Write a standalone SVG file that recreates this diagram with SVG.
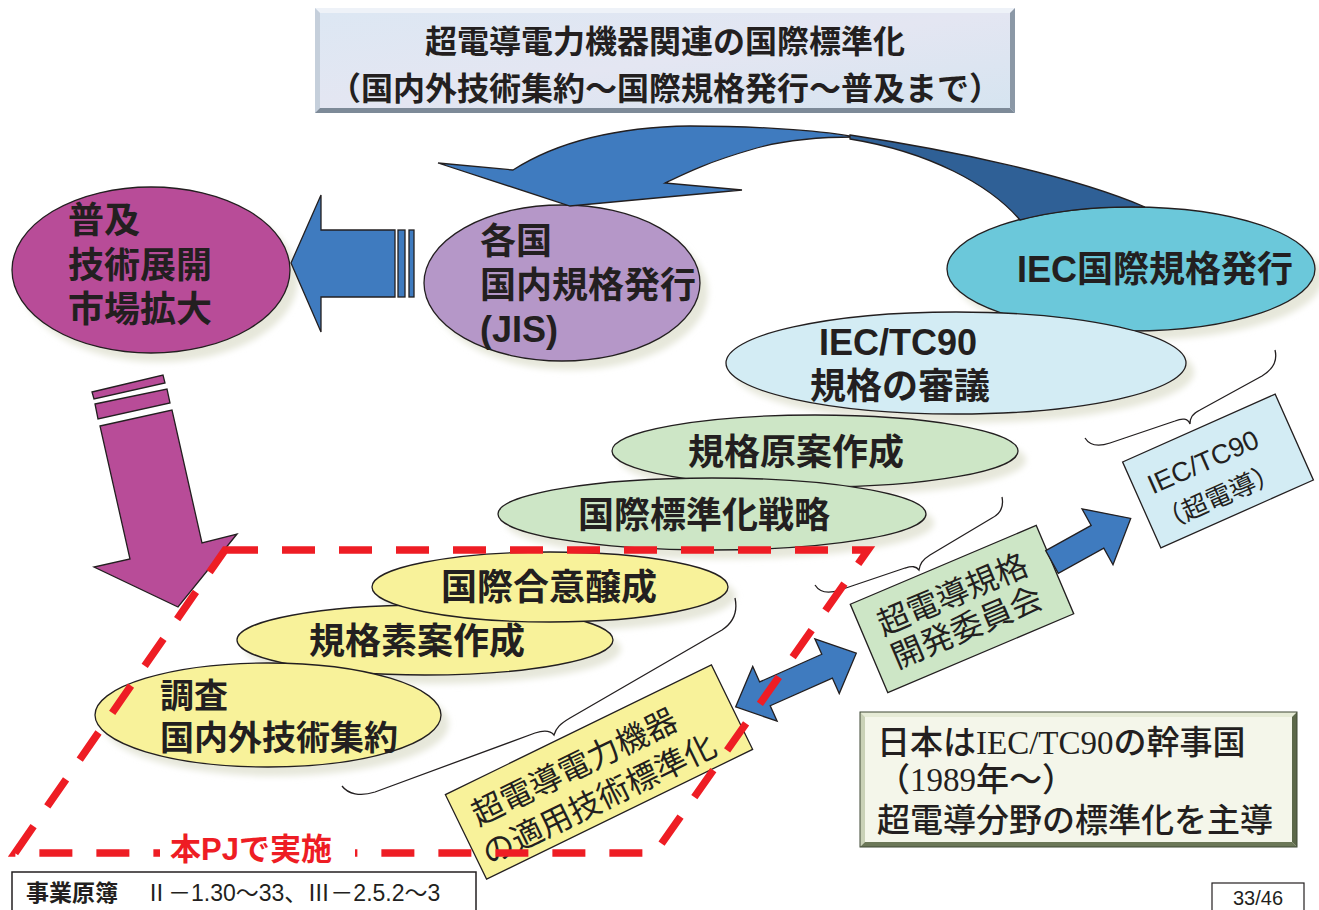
<svg xmlns="http://www.w3.org/2000/svg" width="1319" height="910" viewBox="0 0 1319 910">
<defs>
<filter id="blur" x="-20%" y="-20%" width="140%" height="140%"><feGaussianBlur stdDeviation="3"/></filter>
<linearGradient id="tg" x1="0" y1="0" x2="1" y2="1"><stop offset="0" stop-color="#DCE7F3"/><stop offset="0.5" stop-color="#E4E6F2"/><stop offset="1" stop-color="#D5E4F0"/></linearGradient>
</defs>
<style>
.ol{stroke:#231F20;stroke-width:1.3}
.t{font-family:"Liberation Sans","Noto Sans CJK JP",sans-serif;font-weight:bold;fill:#231F20}
.r{font-family:"Liberation Sans","Noto Sans CJK JP",sans-serif;fill:#231F20}
.s{font-family:"Liberation Serif","Noto Sans CJK JP",serif;font-weight:500;fill:#231F20}
.sh{fill:#E6E7DA;filter:url(#blur)}
.blue{fill:#3F7BBF}
.brace{fill:none;stroke:#231F20;stroke-width:1.3}
.dash{fill:none;stroke:#EE1D24;stroke-width:7.5;stroke-dasharray:33 24}
</style>
<rect width="1319" height="910" fill="#FFFFFF"/>

<g id="shadows">
<ellipse class="sh" cx="159" cy="279" rx="139" ry="83"/>
<ellipse class="sh" cx="570" cy="292" rx="138" ry="78"/>
<ellipse class="sh" cx="1139" cy="278" rx="184" ry="62"/>
<ellipse class="sh" cx="964" cy="372" rx="230" ry="51"/>
<ellipse class="sh" cx="823" cy="460" rx="203" ry="36"/>
<ellipse class="sh" cx="720" cy="523" rx="214" ry="36"/>
<ellipse class="sh" cx="558" cy="596" rx="178" ry="35"/>
<ellipse class="sh" cx="433" cy="649" rx="188" ry="35"/>
<ellipse class="sh" cx="276" cy="724" rx="173" ry="52"/>
</g>

<g id="title">
<rect x="315" y="8" width="700" height="105" fill="url(#tg)"/>
<polygon points="315,8 1015,8 1010,13 320,13" fill="#EEF2F8"/>
<polygon points="315,8 320,13 320,108 315,113" fill="#C5CFDB"/>
<polygon points="315,113 1015,113 1010,108 320,108" fill="#7D8A98"/>
<polygon points="1015,8 1015,113 1010,108 1010,13" fill="#8B98A6"/>
<text class="t" x="665" y="53" font-size="32" text-anchor="middle">超電導電力機器関連の国際標準化</text>
<text class="t" x="665" y="100" font-size="32" text-anchor="middle">（国内外技術集約～国際規格発行～普及まで）</text>
</g>

<g id="node-fukyu">
<ellipse class="ol" cx="151" cy="270" rx="139" ry="83" fill="#B84C98"/>
<text class="t" x="68" y="233" font-size="36">普及</text>
<text class="t" x="68" y="278" font-size="36">技術展開</text>
<text class="t" x="68" y="322" font-size="36">市場拡大</text>
</g>

<g id="node-kakkoku">
<ellipse class="ol" cx="562" cy="283" rx="138" ry="78" fill="#B597C8"/>
<text class="t" x="480" y="254" font-size="36">各国</text>
<text class="t" x="480" y="298" font-size="36">国内規格発行</text>
<text class="t" x="480" y="342" font-size="36">(JIS)</text>
</g>

<g id="node-iec">
<ellipse class="ol" cx="1131" cy="269" rx="184" ry="62" fill="#6BC8DA"/>
<text class="t" x="1155" y="282" font-size="36" text-anchor="middle">IEC国際規格発行</text>
</g>

<g id="node-tc90">
<ellipse class="ol" cx="956" cy="363" rx="230" ry="51" fill="#D3ECF4"/>
<text class="t" x="898" y="355" font-size="36" text-anchor="middle">IEC/TC90</text>
<text class="t" x="900" y="399" font-size="36" text-anchor="middle">規格の審議</text>
</g>

<g id="node-gen-an">
<ellipse class="ol" cx="815" cy="451" rx="203" ry="36" fill="#CDE6C6"/>
<text class="t" x="796" y="465" font-size="36" text-anchor="middle">規格原案作成</text>
</g>

<g id="node-senryaku">
<ellipse class="ol" cx="712" cy="514" rx="214" ry="36" fill="#CDE6C6"/>
<text class="t" x="704" y="528" font-size="36" text-anchor="middle">国際標準化戦略</text>
</g>

<g id="node-so-an">
<ellipse class="ol" cx="425" cy="640" rx="188" ry="35" fill="#F8F29A"/>
</g>

<g id="node-goi">
<ellipse class="ol" cx="550" cy="587" rx="178" ry="35" fill="#F8F29A"/>
<text class="t" x="549" y="600" font-size="36" text-anchor="middle">国際合意醸成</text>
</g>

<g id="node-so-an-label">
<text class="t" x="417" y="654" font-size="36" text-anchor="middle">規格素案作成</text>
</g>

<g id="node-chosa">
<ellipse class="ol" cx="268" cy="715" rx="173" ry="52" fill="#F8F29A"/>
<text class="t" x="160" y="708" font-size="34">調査</text>
<text class="t" x="160" y="750" font-size="34">国内外技術集約</text>
</g>

<g id="box-tc90" transform="translate(1218,471) rotate(-24)">
<rect class="ol" x="-83.5" y="-47" width="167" height="94" fill="#D3ECF4"/>
<text class="r" x="-10" y="-5" font-size="27" text-anchor="middle">IEC/TC90</text>
<text class="r" x="-10" y="33" font-size="26" text-anchor="middle">（超電導）</text>
</g>

<g id="box-iinkai" transform="translate(962,609) rotate(-23)">
<rect class="ol" x="-101" y="-48" width="202" height="96" fill="#CDE6C6"/>
<text class="r" x="-3" y="-6" font-size="32" text-anchor="middle">超電導規格</text>
<text class="r" x="-3" y="30" font-size="32" text-anchor="middle">開発委員会</text>
</g>

<g id="box-tekiyo" transform="translate(599,772) rotate(-26)">
<rect class="ol" x="-148" y="-47" width="296" height="94" fill="#F8F29A"/>
<text class="r" x="-132" y="-4" font-size="32">超電導電力機器</text>
<text class="r" x="-140" y="36" font-size="32">の適用技術標準化</text>
</g>

<g id="box-japan">
<rect x="860" y="712" width="437" height="135" fill="#F4F6EA"/>
<polygon points="860,712 1297,712 1292,717 865,717" fill="#E6EBD6"/>
<polygon points="860,712 865,717 865,842 860,847" fill="#C9D1B6"/>
<polygon points="860,847 1297,847 1292,842 865,842" fill="#6C7858"/>
<polygon points="1297,712 1297,847 1292,842 1292,717" fill="#5C684A"/>
<rect x="860" y="712" width="437" height="135" fill="none" stroke="#3E4834" stroke-width="1"/>
<text class="s" x="877" y="754" font-size="33">日本はIEC/TC90の幹事国</text>
<text class="s" x="877" y="791" font-size="33">（1989年～）</text>
<text class="s" x="877" y="832" font-size="33">超電導分野の標準化を主導</text>
</g>

<g id="connectors">
<path class="ol" fill="#3F7BBF" d="M 513,170 C 560,140 620,127 690,126 C 770,126 830,132 855,137 C 805,137 772,143 750,150 C 705,163 682,175 665,183 L 742,190 L 570,206 L 438,163 Z"/>
<path class="ol" fill="#2F6096" d="M 850,135 C 950,150 1070,175 1145,207 A 184 62 0 0 0 1020,220 C 990,185 930,152 850,139 Z"/>
<polygon class="ol blue" points="291,263 321,195 321,230 395,230 395,297 321,297 321,332"/>
<rect class="ol blue" x="398" y="230" width="7" height="67"/>
<rect class="ol blue" x="409" y="230" width="5" height="67"/>
<polygon class="ol" fill="#B84C98" points="92,392 163,375 165,383 94,399"/>
<polygon class="ol" fill="#B84C98" points="95,404 167,389 170,403 98,419"/>
<polygon class="ol" fill="#B84C98" points="100,426 172,410 202,543 237,534 178,607 94,567 130,559"/>
<polygon class="ol blue" transform="translate(796,680) rotate(-24)" points="-66,0 -34,-30 -34,-13 34,-13 34,-30 66,0 34,30 34,13 -34,13 -34,30"/>
<polygon class="ol blue" transform="translate(1052,562) rotate(-29)" points="0,-13 52,-13 52,-32 90,0 52,32 52,13 0,13"/>
<path class="brace" d="M 1275,350 C 1278,362 1272,370 1262,376 L 1200,410 C 1192,414 1190,418 1190,424 C 1188,418 1182,418 1175,421 L 1110,443 C 1098,447 1090,446 1085,438"/>
<path class="brace" d="M 1002,497 C 1004,507 1000,514 992,518 L 930,555 C 922,560 920,564 919,570 C 916,566 912,566 905,568 L 840,590 C 828,594 820,593 815,585"/>
<path class="brace" d="M 735,598 C 738,612 734,622 722,630 L 570,718 C 560,724 556,728 554,735 C 550,730 544,730 535,733 L 375,792 C 360,797 348,794 342,786"/>
</g>

<g id="scope">
<polygon class="dash" points="225,550 868,550 655,853 15,853"/>
<rect x="160" y="830" width="195" height="40" fill="#FFFFFF"/>
<text x="170" y="860" font-size="31" font-family="Liberation Sans, Noto Sans CJK JP, sans-serif" font-weight="bold" fill="#EE1D24">本PJで実施</text>
</g>

<g id="footer">
<rect x="12" y="872" width="464" height="45" fill="#FFFFFF" stroke="#231F20" stroke-width="1.5"/>
<text class="r" x="26" y="901" font-size="23"><tspan font-weight="bold">事業原簿</tspan><tspan x="145">Ⅱ－1.30～33、Ⅲ－2.5.2～3</tspan></text>
<rect x="1212" y="883" width="92" height="32" fill="#FFFFFF" stroke="#231F20" stroke-width="1.2"/>
<text class="r" x="1258" y="905" font-size="20" text-anchor="middle">33/46</text>
</g>
</svg>
